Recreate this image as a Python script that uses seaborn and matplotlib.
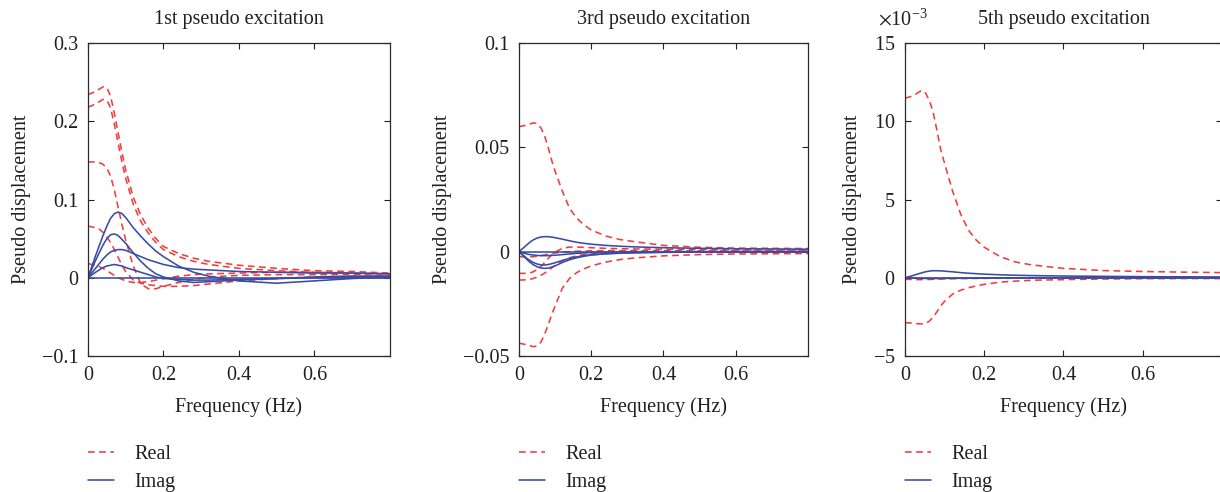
import matplotlib
matplotlib.use("Agg")
import matplotlib.pyplot as plt
import numpy as np
import pandas as pd
import seaborn as sns
from matplotlib.ticker import FuncFormatter, ScalarFormatter

# Frequency samples shared by every response curve (Hz)
freq = [0, 0.02, 0.03, 0.04, 0.05, 0.06, 0.07, 0.08, 0.09, 0.10, 0.12, 0.14,
        0.16, 0.18, 0.20, 0.24, 0.28, 0.32, 0.40, 0.50, 0.60, 0.70, 0.80]

# 1st pseudo excitation
p1_real = [
    [0.234, 0.238, 0.241, 0.244, 0.243, 0.232, 0.210, 0.185, 0.160, 0.138, 0.103, 0.080,
     0.063, 0.050, 0.040, 0.031, 0.025, 0.021, 0.016, 0.012, 0.009, 0.008, 0.006],
    [0.218, 0.222, 0.225, 0.228, 0.227, 0.217, 0.196, 0.172, 0.148, 0.127, 0.094, 0.072,
     0.057, 0.045, 0.036, 0.027, 0.021, 0.017, 0.012, 0.009, 0.007, 0.006, 0.005],
    [0.148, 0.148, 0.147, 0.145, 0.140, 0.130, 0.112, 0.090, 0.068, 0.048, 0.015, -0.008,
     -0.014, -0.014, -0.011, -0.006, -0.002, 0.001, 0.003, 0.004, 0.004, 0.004, 0.003],
    [0.066, 0.064, 0.062, 0.058, 0.052, 0.045, 0.036, 0.026, 0.016, 0.008, -0.003, -0.007,
     -0.009, -0.010, -0.011, -0.011, -0.010, -0.008, -0.004, -0.001, 0.001, 0.002, 0.002],
    [0.018, 0.016, 0.014, 0.012, 0.009, 0.006, 0.003, 0.000, -0.002, -0.004, -0.006, -0.006,
     -0.005, -0.003, -0.001, 0.002, 0.004, 0.005, 0.006, 0.007, 0.007, 0.006, 0.005],
]
p1_imag = [
    [0, 0.028, 0.041, 0.054, 0.066, 0.076, 0.082, 0.084, 0.082, 0.077, 0.064, 0.053,
     0.043, 0.034, 0.027, 0.015, 0.007, 0.002, -0.004, -0.007, -0.004, -0.001, 0.001],
    [0, 0.022, 0.032, 0.042, 0.050, 0.055, 0.056, 0.054, 0.049, 0.044, 0.032, 0.021,
     0.012, 0.005, 0.001, -0.004, -0.006, -0.005, -0.003, -0.001, 0.001, 0.002, 0.002],
    [0, 0.012, 0.018, 0.024, 0.029, 0.033, 0.035, 0.036, 0.036, 0.035, 0.031, 0.027,
     0.023, 0.020, 0.017, 0.013, 0.011, 0.010, 0.008, 0.007, 0.006, 0.006, 0.005],
    [0, 0.007, 0.010, 0.013, 0.015, 0.016, 0.017, 0.016, 0.015, 0.013, 0.010, 0.007,
     0.004, 0.001, -0.001, -0.002, -0.003, -0.003, -0.002, -0.001, 0.000, 0.000, 0.000],
    [0, 0, 0, 0, 0, 0, 0, 0, 0, 0, 0, 0, 0, 0, 0, 0, 0, 0, 0, 0, 0, 0, 0],
]

# 3rd pseudo excitation
p3_real = [
    [0.0599, 0.0606, 0.0612, 0.0617, 0.0614, 0.0595, 0.0560, 0.0505, 0.0440, 0.0385, 0.0290,
     0.0208, 0.0160, 0.0128, 0.0104, 0.0075, 0.0058, 0.0048, 0.0030, 0.0021, 0.0017, 0.0016, 0.0015],
    [-0.0438, -0.0446, -0.0451, -0.0455, -0.0452, -0.0435, -0.0400, -0.0355, -0.0305, -0.0260,
     -0.0175, -0.0128, -0.0100, -0.0082, -0.0068, -0.0050, -0.0038, -0.0030, -0.0020, -0.0014,
     -0.0011, -0.0010, -0.0009],
    [-0.0104, -0.0104, -0.0102, -0.0096, -0.0086, -0.0072, -0.0054, -0.0034, -0.0016, -0.0002,
     0.0016, 0.0022, 0.0022, 0.0021, 0.0019, 0.0016, 0.0014, 0.0013, 0.0012, 0.0010, 0.0009,
     0.0008, 0.0008],
    [-0.0136, -0.0135, -0.0133, -0.0128, -0.0122, -0.0114, -0.0104, -0.0092, -0.0079, -0.0066,
     -0.0044, -0.0029, -0.0020, -0.0014, -0.0010, -0.0006, -0.0004, -0.0003, -0.0002, -0.0001,
     0.0000, 0.0000, 0.0000],
    [-0.0024, -0.0025, -0.0025, -0.0024, -0.0022, -0.0019, -0.0016, -0.0012, -0.0009, -0.0006,
     -0.0002, 0.0000, 0.0002, 0.0003, 0.0004, 0.0005, 0.0005, 0.0005, 0.0005, 0.0004, 0.0004,
     0.0004, 0.0003],
]
p3_imag = [
    [0, 0.0030, 0.0045, 0.0057, 0.0065, 0.0070, 0.0072, 0.0072, 0.0070, 0.0067, 0.0060, 0.0052,
     0.0045, 0.0040, 0.0036, 0.0030, 0.0026, 0.0023, 0.0019, 0.0016, 0.0014, 0.0013, 0.0012],
    [0, 0, 0, 0, 0, 0, 0, 0, 0, 0, 0, 0, 0, 0, 0, 0, 0, 0, 0, 0, 0, 0, 0],
    [0, -0.0010, -0.0014, -0.0016, -0.0018, -0.0019, -0.0019, -0.0019, -0.0018, -0.0017, -0.0014,
     -0.0011, -0.0008, -0.0006, -0.0004, -0.0002, -0.0001, 0, 0, 0, 0, 0, 0],
    [0, -0.0030, -0.0042, -0.0052, -0.0059, -0.0063, -0.0064, -0.0062, -0.0058, -0.0053, -0.0042,
     -0.0032, -0.0025, -0.0019, -0.0015, -0.0010, -0.0007, -0.0005, -0.0003, -0.0002, -0.0001,
     -0.0001, 0],
    [0, -0.0034, -0.0050, -0.0063, -0.0072, -0.0078, -0.0080, -0.0079, -0.0074, -0.0068, -0.0052,
     -0.0039, -0.0029, -0.0022, -0.0016, -0.0010, -0.0007, -0.0005, -0.0003, -0.0002, -0.0001,
     -0.0001, 0],
]

# 5th pseudo excitation
p5_real = [
    [11.47e-3, 11.62e-3, 11.78e-3, 11.94e-3, 11.90e-3, 11.40e-3, 10.70e-3, 9.50e-3, 8.20e-3,
     7.30e-3, 5.55e-3, 4.10e-3, 3.05e-3, 2.40e-3, 1.95e-3, 1.35e-3, 1.00e-3, 0.82e-3, 0.60e-3,
     0.46e-3, 0.40e-3, 0.36e-3, 0.33e-3],
    [-2.87e-3, -2.90e-3, -2.93e-3, -2.95e-3, -2.94e-3, -2.80e-3, -2.55e-3, -2.20e-3, -1.80e-3,
     -1.50e-3, -1.05e-3, -0.80e-3, -0.64e-3, -0.52e-3, -0.42e-3, -0.28e-3, -0.21e-3, -0.16e-3,
     -0.12e-3, -0.08e-3, -0.06e-3, -0.05e-3, -0.05e-3],
    [-0.10e-3, -0.11e-3, -0.12e-3, -0.12e-3, -0.12e-3, -0.11e-3, -0.10e-3, -0.09e-3, -0.08e-3,
     -0.07e-3, -0.06e-3, -0.05e-3, -0.05e-3, -0.04e-3, -0.04e-3, -0.03e-3, -0.03e-3, -0.02e-3,
     -0.02e-3, -0.02e-3, -0.01e-3, -0.01e-3, -0.01e-3],
]
p5_imag = [
    [0, 0.14e-3, 0.22e-3, 0.30e-3, 0.37e-3, 0.42e-3, 0.45e-3, 0.45e-3, 0.44e-3, 0.42e-3, 0.38e-3,
     0.33e-3, 0.29e-3, 0.26e-3, 0.23e-3, 0.19e-3, 0.16e-3, 0.14e-3, 0.11e-3, 0.09e-3, 0.07e-3,
     0.06e-3, 0.05e-3],
    [0, 0, 0, 0, 0, 0, 0, 0, 0, 0, 0, 0, 0, 0, 0, 0, 0, 0, 0, 0, 0, 0, 0],
    [0, -0.02e-3, -0.03e-3, -0.04e-3, -0.04e-3, -0.05e-3, -0.05e-3, -0.05e-3, -0.05e-3, -0.04e-3,
     -0.04e-3, -0.03e-3, -0.03e-3, -0.02e-3, -0.02e-3, -0.01e-3, -0.01e-3, 0, 0, 0, 0, 0, 0],
]

titles = ["1st pseudo excitation", "3rd pseudo excitation", "5th pseudo excitation"]
y_limits = [(-0.1, 0.3), (-0.05, 0.1), (-0.005, 0.015)]
y_ticks = [[-0.1, 0, 0.1, 0.2, 0.3], [-0.05, 0, 0.05, 0.1], [-0.005, 0, 0.005, 0.01, 0.015]]
x_ticks = [0, 0.2, 0.4, 0.6]
panels = [(p1_real, p1_imag), (p3_real, p3_imag), (p5_real, p5_imag)]

RED = "#f23c3c"
BLUE = "#384ca5"
INK = "#231f20"
FS = 14.5

sns.set_theme(style="ticks")
plt.rcParams.update({
    "font.family": ["Liberation Serif", "DejaVu Serif"],
    "mathtext.fontset": "stix",
    "font.size": FS,
    "text.color": INK,
    "axes.labelcolor": INK,
    "axes.edgecolor": "#2a2a2a",
    "axes.linewidth": 0.9,
    "xtick.color": INK,
    "ytick.color": INK,
    "axes.unicode_minus": True,
})


def frame(real_rows, imag_rows):
    rows = []
    for part, block in (("Real", real_rows), ("Imag", imag_rows)):
        for k, vals in enumerate(block):
            for f, v in zip(freq, vals):
                rows.append({"freq": f, "value": v, "part": part, "curve": f"{part}{k}"})
    return pd.DataFrame(rows)


def plain(v, _pos=None):
    return ("%g" % round(v, 6)).replace("-", "\u2212")


fig = plt.figure(figsize=(12.2, 4.92), dpi=100)
positions = [(0.0721, 0.2764, 0.2475, 0.6362),
             (0.4254, 0.2764, 0.2369, 0.6362),
             (0.7418, 0.2764, 0.2598, 0.6362)]

for i, (pos, (real_rows, imag_rows)) in enumerate(zip(positions, panels)):
    ax = fig.add_axes(pos)
    df = frame(real_rows, imag_rows)
    sns.lineplot(data=df, x="freq", y="value", hue="part", style="part", units="curve",
                 estimator=None, sort=False, hue_order=["Real", "Imag"],
                 style_order=["Real", "Imag"],
                 palette={"Real": RED, "Imag": BLUE},
                 dashes={"Real": (4.2, 2.8), "Imag": ""}, linewidth=1.15, ax=ax)
    ax.set_xlim(0, 0.8)
    ax.set_ylim(*y_limits[i])
    ax.set_xticks(x_ticks)
    ax.set_yticks(y_ticks[i])
    ax.xaxis.set_major_formatter(FuncFormatter(plain))
    if i < 2:
        ax.yaxis.set_major_formatter(FuncFormatter(plain))
    else:
        # fixed 10^-3 multiplier shown above the axis
        sf = ScalarFormatter(useMathText=True)
        sf.set_powerlimits((-3, -3))
        ax.yaxis.set_major_formatter(sf)
        ax.yaxis.OFFSETTEXTPAD = 13
        off = ax.yaxis.get_offset_text()
        off.set_fontsize(FS)
        off.set_x(-0.085)
    ax.tick_params(direction="in", top=True, right=True, length=4, width=0.8,
                   pad=7, labelsize=FS)
    for s in ax.spines.values():
        s.set_visible(True)
    ax.set_title(titles[i], pad=14, fontsize=FS, color=INK)
    ax.set_xlabel("Frequency (Hz)", labelpad=9, fontsize=FS)
    ax.set_ylabel("Pseudo displacement", labelpad=8, fontsize=FS)
    sns.move_legend(ax, "upper left", bbox_to_anchor=(0, -0.285), frameon=False,
                    title=None, borderaxespad=0, borderpad=0, handlelength=1.3,
                    handletextpad=1.0, labelspacing=0.45, fontsize=FS)

fig.savefig("out.png", dpi=100)
